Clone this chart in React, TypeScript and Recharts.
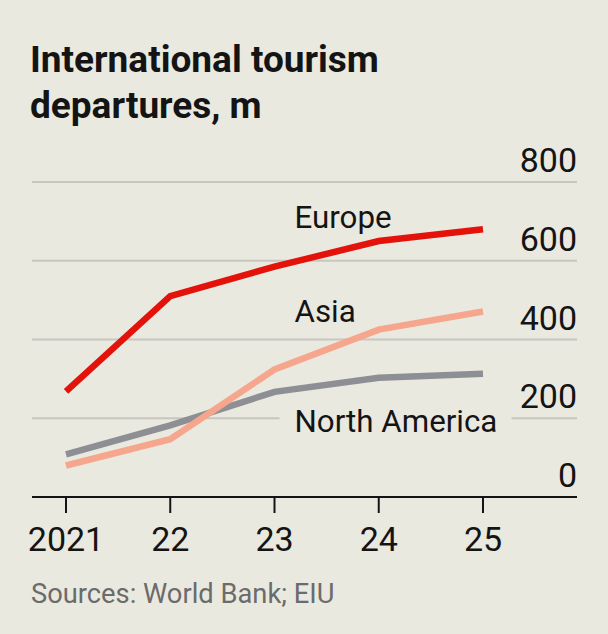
import { LineChart, Line, XAxis, YAxis, CartesianGrid } from "recharts";

// values, millions of departures
const YEARS = ["2021", "22", "23", "24", "25"];
const EUROPE = [268, 510, 585, 650, 680];
const ASIA = [80, 147, 324, 425, 471];
const NORTH_AMERICA = [108, 182, 267, 303, 313];
const Y_TICKS = [0, 200, 400, 600, 800];

const BG = "#eae9e0";
const INK = "#141414";
const FONT = "Roboto, 'Noto Sans', sans-serif";

const data = YEARS.map((year, i) => ({
  year,
  europe: EUROPE[i],
  asia: ASIA[i],
  northAmerica: NORTH_AMERICA[i],
}));

// name label drawn next to the "23" point of a series
const seriesLabel = (text: string, dy: number, boxed = false) => (props: any) => {
  if (props.index !== 2) return null;
  const x = props.x + 20;
  const y = props.y + dy;
  return (
    <g>
      {boxed && <rect x={x - 15} y={y - 27} width={232} height={36} fill={BG} />}
      <text x={x} y={y} fontSize={31.3} fill={INK} fontFamily={FONT}>
        {text}
      </text>
    </g>
  );
};

const XTick = (props: any) => (
  <text x={props.x} y={props.y + 38} textAnchor="middle" fontSize={34} fill={INK} fontFamily={FONT}>
    {props.payload.value}
  </text>
);

const YTick = (props: any) => (
  <text x={props.x} y={props.y - 10} textAnchor="end" fontSize={34} fill={INK} fontFamily={FONT}>
    {props.payload.value}
  </text>
);

export default function App() {
  return (
    <div style={{ position: "relative", width: 608, height: 634, background: BG }}>
      <style>{`body{margin:0}`}</style>
      <svg width={608} height={634} style={{ position: "absolute", left: 0, top: 0 }}>
        <text x={30} y={72} fontSize={37} fontWeight={700} fill={INK} fontFamily={FONT}>
          International tourism
        </text>
        <text x={30} y={118} fontSize={37} fontWeight={700} fill={INK} fontFamily={FONT}>
          departures, m
        </text>
        <text x={31} y={603} fontSize={27.3} fill="#6b6b6b" fontFamily={FONT}>
          Sources: World Bank; EIU
        </text>
      </svg>
      <div style={{ position: "absolute", left: 0, top: 0 }}>
        <LineChart width={608} height={634} data={data} margin={{ top: 182, right: 0, bottom: 0, left: 32 }}>
          <CartesianGrid vertical={false} stroke="#c8c7bf" strokeWidth={2} />
          <XAxis
            dataKey="year"
            height={137}
            padding={{ left: 34, right: 94 }}
            axisLine={{ stroke: INK, strokeWidth: 2 }}
            tickLine={{ stroke: INK, strokeWidth: 2 }}
            tickSize={16}
            tickMargin={0}
            tick={<XTick />}
            interval={0}
          />
          <YAxis
            orientation="right"
            width={31}
            domain={[0, 800]}
            ticks={Y_TICKS}
            axisLine={false}
            tickLine={false}
            tickSize={0}
            tickMargin={0}
            tick={<YTick />}
          />
          <Line
            dataKey="northAmerica"
            stroke="#8e8f94"
            strokeWidth={6.5}
            dot={false}
            isAnimationActive={false}
            label={seriesLabel("North America", 40, true)}
          />
          <Line
            dataKey="asia"
            stroke="#f5a68c"
            strokeWidth={6.5}
            dot={false}
            isAnimationActive={false}
            label={seriesLabel("Asia", -47)}
          />
          <Line
            dataKey="europe"
            stroke="#e3120b"
            strokeWidth={6.5}
            dot={false}
            isAnimationActive={false}
            label={seriesLabel("Europe", -39)}
          />
        </LineChart>
      </div>
    </div>
  );
}
